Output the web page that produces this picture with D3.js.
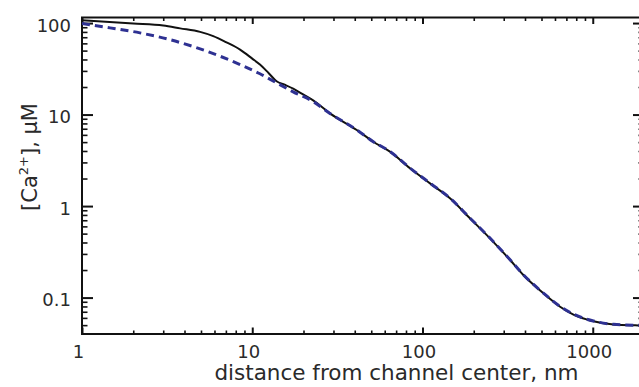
<!DOCTYPE html>
<html><head><meta charset="utf-8">
<script src="https://cdn.jsdelivr.net/npm/d3@7"></script>
<style>body{margin:0;background:#fff;} svg{display:block;}</style>
</head><body>
<script>
// ---- data ----
const xTickValues = [1, 10, 100, 1000];
const xTickLabels = ["1", "10", "100", "1000"];
const yTickValues = [0.1, 1, 10, 100];
const yTickLabels = ["0.1", "1", "10", "100"];

// solid black curve
const solidX = [1, 2, 3, 3.77, 4.94, 5.9, 7, 8.48, 10, 11.1, 12.5, 13.9, 15.5, 17.4, 20, 22.9, 28.6, 41.1, 51.4, 64.4, 84.5, 110.7, 145, 190, 249, 327, 391, 513, 643, 770, 1009, 1324, 1775, 2000];
const solidY = [107, 99, 94, 87.5, 80.1, 72, 62, 51.3, 40.9, 35.2, 28.3, 23.1, 21.2, 19.2, 16.5, 14.2, 10.3, 6.78, 5.05, 3.93, 2.59, 1.77, 1.216, 0.735, 0.444, 0.2576, 0.1767, 0.1114, 0.0795, 0.0652, 0.0551, 0.0507, 0.0497, 0.0495];

// dashed blue curve
const dashedX = [1, 1.46, 2.19, 3.15, 4.94, 6.47, 8.48, 11.1, 13.9, 17.4, 22.9, 28.6, 41.1, 51.4, 64.4, 84.5, 110.7, 145, 190, 249, 327, 391, 513, 643, 770, 1009, 1324, 1775, 2000];
const dashedY = [98.7, 88.6, 78.1, 67.2, 52.2, 43.4, 35.2, 27.9, 22.2, 17.7, 13.8, 10.3, 6.8, 5.06, 3.95, 2.6, 1.78, 1.22, 0.74, 0.447, 0.259, 0.178, 0.112, 0.08, 0.066, 0.0555, 0.051, 0.0498, 0.0496];

const xTitle = "distance from channel center, nm";

// ---- layout ----
const W = 639, H = 387;
const L = 82, R = 644, T = 17.5, B = 334;

const svg = d3.select("body").append("svg").attr("width", W).attr("height", H)
  .style("font-family", "'DejaVu Sans', sans-serif");

const x = d3.scaleLog().domain([1, 2000]).range([L, R]);
const y = d3.scaleLog().domain([0.04, 115]).range([B, T]);

function minors(lo, hi) {
  const out = [];
  for (let e = Math.floor(Math.log10(lo)); e <= Math.ceil(Math.log10(hi)); e++) {
    for (let m = 2; m <= 9; m++) {
      const v = m * Math.pow(10, e);
      if (v > lo * 1.0001 && v < hi * 0.9999) out.push(v);
    }
  }
  return out;
}
const xMinor = minors(1, 2000);
const yMinor = minors(0.04, 115);

function styleAxis(g, w) {
  g.select(".domain").remove();
  g.selectAll(".tick line").attr("stroke", "#111").attr("stroke-width", w);
}

// minor ticks
svg.append("g").attr("transform", `translate(0,${B})`)
  .call(d3.axisBottom(x).tickValues(xMinor).tickFormat("").tickSizeInner(-3.5).tickSizeOuter(0))
  .call(g => styleAxis(g, 1.6));
svg.append("g").attr("transform", `translate(0,${T})`)
  .call(d3.axisTop(x).tickValues(xMinor).tickFormat("").tickSizeInner(-3.5).tickSizeOuter(0))
  .call(g => styleAxis(g, 1.6));
svg.append("g").attr("transform", `translate(${L},0)`)
  .call(d3.axisLeft(y).tickValues(yMinor).tickFormat("").tickSizeInner(-5.5).tickSizeOuter(0))
  .call(g => styleAxis(g, 1.6));
svg.append("g").attr("transform", `translate(${R},0)`)
  .call(d3.axisRight(y).tickValues(yMinor).tickFormat("").tickSizeInner(-5.5).tickSizeOuter(0))
  .call(g => styleAxis(g, 1.6));

// major ticks with labels
const gxb = svg.append("g").attr("transform", `translate(0,${B})`)
  .call(d3.axisBottom(x).tickValues(xTickValues).tickFormat((d, i) => xTickLabels[i])
    .tickSizeInner(-6.5).tickSizeOuter(0).tickPadding(11))
  .call(g => styleAxis(g, 2));
gxb.selectAll(".tick text").attr("font-size", 18).attr("fill", "#2a2a2a").attr("dx", -4)
  .style("font-family", "'DejaVu Sans', sans-serif");

svg.append("g").attr("transform", `translate(0,${T})`)
  .call(d3.axisTop(x).tickValues(xTickValues).tickFormat("").tickSizeInner(-6.5).tickSizeOuter(0))
  .call(g => styleAxis(g, 2));

const gyl = svg.append("g").attr("transform", `translate(${L},0)`)
  .call(d3.axisLeft(y).tickValues(yTickValues).tickFormat((d, i) => yTickLabels[i])
    .tickSizeInner(-11).tickSizeOuter(0).tickPadding(11))
  .call(g => styleAxis(g, 2));
gyl.selectAll(".tick text").attr("font-size", 18).attr("fill", "#2a2a2a").attr("dy", "0.45em")
  .style("font-family", "'DejaVu Sans', sans-serif");

svg.append("g").attr("transform", `translate(${R},0)`)
  .call(d3.axisRight(y).tickValues(yTickValues).tickFormat("").tickSizeInner(-11).tickSizeOuter(0))
  .call(g => styleAxis(g, 2));

// frame
svg.append("rect").attr("x", L).attr("y", T).attr("width", R - L).attr("height", B - T)
  .attr("fill", "none").attr("stroke", "#111").attr("stroke-width", 2);

// curves
svg.append("clipPath").attr("id", "plotclip").append("rect")
  .attr("x", L).attr("y", T).attr("width", R - L).attr("height", B - T);

const line = d3.line().x(d => x(d[0])).y(d => y(d[1])).curve(d3.curveMonotoneX);

svg.append("path").datum(solidX.map((v, i) => [v, solidY[i]]))
  .attr("d", line).attr("fill", "none").attr("stroke", "#111").attr("stroke-width", 2)
  .attr("clip-path", "url(#plotclip)");

svg.append("path").datum(dashedX.map((v, i) => [v, dashedY[i]]))
  .attr("d", line).attr("fill", "none").attr("stroke", "#2e3192").attr("stroke-width", 3)
  .attr("stroke-dasharray", "8,5").attr("clip-path", "url(#plotclip)");

// axis titles
svg.append("text").attr("x", 396.5).attr("y", 380).attr("text-anchor", "middle")
  .attr("font-size", 21.5).attr("fill", "#2a2a2a").text(xTitle);

const yl = svg.append("text").attr("transform", "translate(37,157) rotate(-90)")
  .attr("text-anchor", "middle").attr("font-size", 21).attr("fill", "#2a2a2a");
yl.append("tspan").text("[Ca");
yl.append("tspan").attr("font-size", 13).attr("dy", -9).text("2+");
yl.append("tspan").attr("dy", 9).text("], \u03bcM");
</script>
</body></html>
